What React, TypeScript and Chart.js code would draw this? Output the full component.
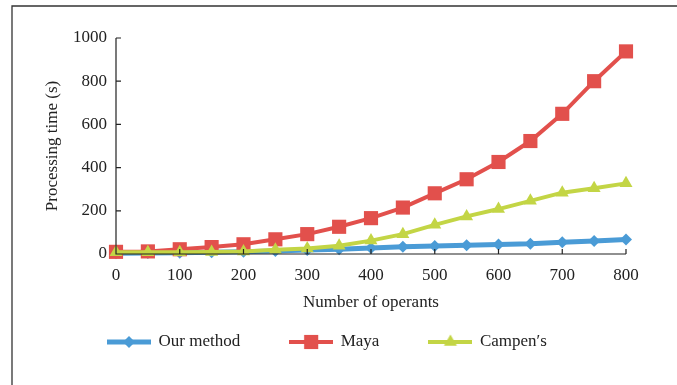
import React, { useEffect, useRef } from "react";
import { Chart, registerables } from "chart.js";

Chart.register(...registerables);

const operants = [0, 50, 100, 150, 200, 250, 300, 350, 400, 450, 500, 550, 600, 650, 700, 750, 800];
const ourMethod = [4, 5, 6, 8, 10, 14, 18, 22, 28, 34, 37, 40, 44, 47, 54, 60, 67];
const maya = [10, 12, 22, 32, 45, 68, 92, 126, 166, 215, 281, 346, 426, 523, 649, 800, 938];
const campens = [8, 8, 8, 9, 12, 20, 26, 38, 62, 92, 135, 174, 208, 246, 284, 304, 327];
const seriesNames = ["Our method", "Maya", "Campen\u2032s"];
const xTitle = "Number of operants";
const yTitle = "Processing time (s)";

const FONT = "'Liberation Serif', 'DejaVu Serif', 'Times New Roman', serif";
const TEXT = "#222";
const BLUE = "#4a9bd6";
const RED = "#e2504c";
const GREEN = "#c3d545";

function drawMarker(ctx: CanvasRenderingContext2D, style: string, x: number, y: number, r: number) {
  ctx.beginPath();
  if (style === "rect") {
    const s = Math.SQRT1_2 * r;
    ctx.rect(x - s, y - s, 2 * s, 2 * s);
  } else if (style === "triangle") {
    ctx.moveTo(x, y - r);
    ctx.lineTo(x + r * Math.sin(2 * Math.PI / 3), y + r * 0.5);
    ctx.lineTo(x - r * Math.sin(2 * Math.PI / 3), y + r * 0.5);
    ctx.closePath();
  } else {
    ctx.moveTo(x - r, y);
    ctx.lineTo(x, y - r);
    ctx.lineTo(x + r, y);
    ctx.lineTo(x, y + r);
    ctx.closePath();
  }
  ctx.fill();
}

function legendImage(color: string, style: string, lw: number, r: number) {
  const c = document.createElement("canvas");
  c.width = 44;
  c.height = 20;
  const ctx = c.getContext("2d")!;
  ctx.strokeStyle = color;
  ctx.fillStyle = color;
  ctx.lineWidth = lw;
  ctx.beginPath();
  ctx.moveTo(0, 10);
  ctx.lineTo(44, 10);
  ctx.stroke();
  drawMarker(ctx, style, 22, 10, r);
  return c;
}

const decor = {
  id: "decor",
  beforeDraw(chart: any) {
    const { ctx, width, height } = chart;
    ctx.save();
    ctx.fillStyle = "#fff";
    ctx.fillRect(0, 0, width, height);
    ctx.strokeStyle = "#333";
    ctx.lineWidth = 1.3;
    ctx.beginPath();
    ctx.moveTo(12, height);
    ctx.lineTo(12, 6);
    ctx.lineTo(width, 6);
    ctx.stroke();
    ctx.restore();
  },
  afterDatasetsDraw(chart: any) {
    const { ctx, chartArea } = chart;
    const xs = chart.scales.x;
    const ys = chart.scales.y;
    ctx.save();
    ctx.strokeStyle = "#222";
    ctx.lineWidth = 1.2;
    ctx.beginPath();
    ctx.moveTo(chartArea.left, chartArea.top);
    ctx.lineTo(chartArea.left, chartArea.bottom);
    ctx.lineTo(chartArea.right, chartArea.bottom);
    ys.ticks.forEach((t: any) => {
      const py = ys.getPixelForValue(t.value);
      ctx.moveTo(chartArea.left, py);
      ctx.lineTo(chartArea.left + 5, py);
    });
    xs.ticks.forEach((t: any) => {
      const px = xs.getPixelForValue(t.value);
      ctx.moveTo(px, chartArea.bottom);
      ctx.lineTo(px, chartArea.bottom - 5);
    });
    ctx.stroke();
    ctx.restore();
  },
};

export default function App() {
  const ref = useRef<HTMLCanvasElement>(null);
  useEffect(() => {
    const canvas = ref.current!;
    const toPts = (arr: number[]) => arr.map((v, i) => ({ x: operants[i], y: v }));
    const colors = [BLUE, RED, GREEN];
    const styles = ["rectRot", "rect", "triangle"];
    const radii = [6, 10, 7.5];
    const widths = [5, 4, 4];
    const images = [
      legendImage(BLUE, "rectRot", 5, 6),
      legendImage(RED, "rect", 4, 10),
      legendImage(GREEN, "triangle", 4, 7.5),
    ];
    const values = [ourMethod, maya, campens];
    const chart = new Chart(canvas, {
      type: "line",
      data: {
        datasets: values.map((arr, i) => ({
          label: seriesNames[i],
          data: toPts(arr),
          borderColor: colors[i],
          backgroundColor: colors[i],
          borderWidth: widths[i],
          pointStyle: styles[i] as any,
          pointRadius: radii[i],
          pointBorderWidth: 0,
          pointBackgroundColor: colors[i],
          tension: 0,
          clip: false as any,
          order: 2 - i,
        })),
      },
      plugins: [decor],
      options: {
        responsive: false,
        animation: false,
        layout: { padding: { left: 58, top: 38, right: 51, bottom: 24.5 } },
        plugins: {
          tooltip: { enabled: false },
          legend: {
            position: "bottom",
            align: "start",
            labels: {
              usePointStyle: true,
              pointStyleWidth: 42,
              padding: 50,
              color: TEXT,
              font: { family: FONT, size: 17 },
              generateLabels: () =>
                seriesNames.map((name, i) => ({
                  text: name,
                  pointStyle: images[i] as any,
                  fillStyle: colors[i],
                  strokeStyle: colors[i],
                  lineWidth: 0,
                  hidden: false,
                  datasetIndex: i,
                  fontColor: TEXT,
                })),
            },
          },
        },
        scales: {
          x: {
            type: "linear",
            min: 0,
            max: 800,
            grid: { display: false, drawTicks: false },
            border: { display: false },
            ticks: { stepSize: 100, padding: 11, color: TEXT, font: { family: FONT, size: 17 }, maxRotation: 0, autoSkip: false, callback: (v: any) => String(v) },
            title: { display: true, text: xTitle, color: TEXT, font: { family: FONT, size: 17 }, padding: { top: 0, bottom: -29 } },
            afterFit: (s: any) => { s.height = 29.5; },
          },
          y: {
            min: 0,
            max: 1000,
            grid: { display: false, drawTicks: false },
            border: { display: false },
            ticks: { stepSize: 200, padding: 9, color: TEXT, font: { family: FONT, size: 17 }, callback: (v: any) => String(v) },
            title: { display: true, text: yTitle, color: TEXT, font: { family: FONT, size: 17 }, padding: { top: -16, bottom: 0 } },
            afterFit: (s: any) => { s.width = 58; },
          },
        },
      },
    });
    return () => chart.destroy();
  }, []);
  return (
    <div style={{ position: "absolute", left: 0, top: 0, width: 677, height: 385, background: "#fff" }}>
      <canvas ref={ref} width={677} height={385} />
    </div>
  );
}
